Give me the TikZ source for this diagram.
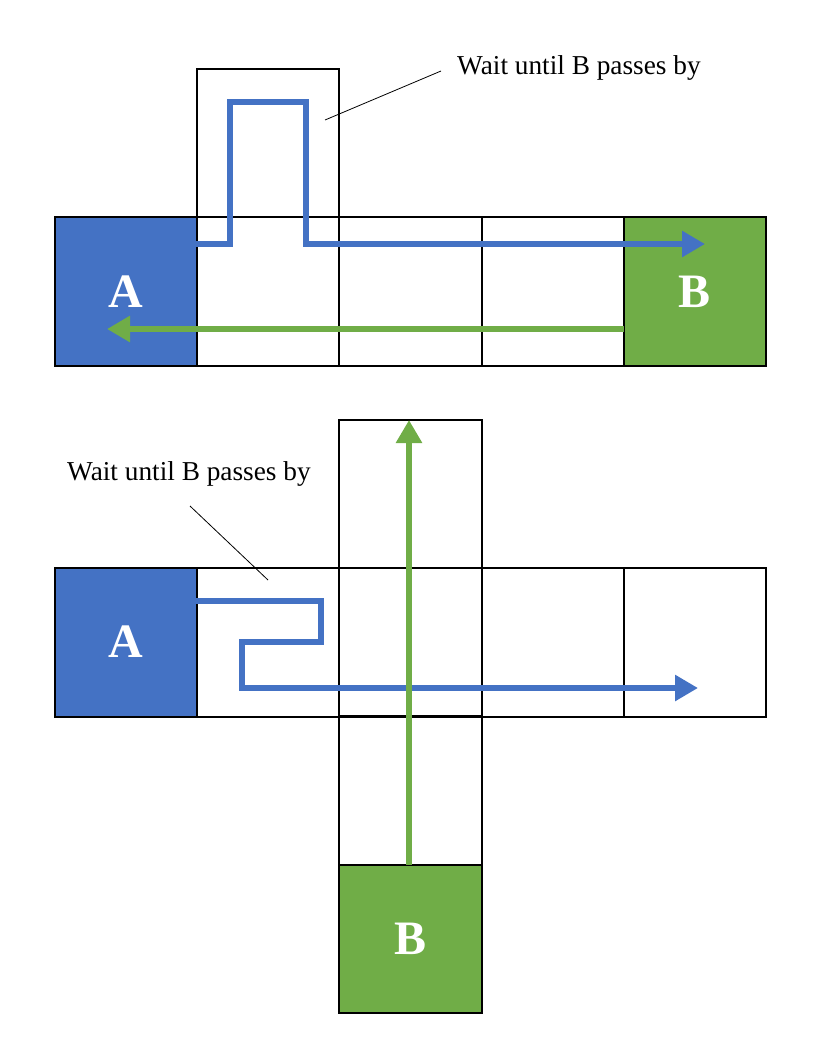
\documentclass[tikz,border=0pt]{standalone}
\usepackage{fontspec}
\setmainfont{Liberation Serif}
\usetikzlibrary{arrows.meta}
\definecolor{cblue}{HTML}{4472C4}
\definecolor{cgreen}{HTML}{70AD47}
\begin{document}
\begin{tikzpicture}[x=1pt,y=-1pt,
  cell/.style={draw=black,line width=2pt,minimum width=142.2pt,minimum height=149pt,inner sep=0pt,outer sep=0pt},
  cellA/.style={cell,fill=cblue},
  cellB/.style={cell,fill=cgreen},
  letter/.style={text=white,font=\bfseries\fontsize{48}{50}\selectfont},
  lbl/.style={font=\fontsize{27.3}{32}\selectfont,inner sep=0pt},
  bpath/.style={draw=cblue,line width=6pt},
  gpath/.style={draw=cgreen,line width=6.5pt},
  tip/.style={-{Triangle[length=23pt,width=25pt]}},
  pointer/.style={draw=black,line width=0.8pt}]
\useasboundingbox (0,0) rectangle (824,1045);
% ---------- top diagram ----------
\node[cellA] (tA) at (126.1,291.5) {};
\node[cell]  (t1) at (268.3,291.5) {};
\node[cell]  (t2) at (410.5,291.5) {};
\node[cell]  (t3) at (552.7,291.5) {};
\node[cellB] (tB) at (694.9,291.5) {};
\node[cell,minimum height=148pt] (tU) at (268.3,143) {};
\node[letter] (tAl) at (tA) {A};
\node[letter] (tBl) at (tB) {B};
\coordinate (tp0) at (196,244);
\coordinate (tp1) at (230,244);
\coordinate (tp2) at (230,102);
\coordinate (tp3) at (306,102);
\coordinate (tp4) at (306,244);
\coordinate (tp5) at (705,244);
\draw[bpath,tip] (tp0) -- (tp1) -- (tp2) -- (tp3) -- (tp4) -- (tp5);
\coordinate (tg0) at (624,329);
\coordinate (tg1) at (107,329);
\draw[gpath,tip] (tg0) -- (tg1);
\node[lbl,anchor=base west] (tL) at (457,74) {Wait until B passes by};
\coordinate (tl0) at (441,71);
\coordinate (tl1) at (325,120);
\draw[pointer] (tl0) -- (tl1);
% ---------- bottom diagram ----------
\node[cellA] (bA) at (126.1,642) {};
\node[cell]  (b1) at (268.3,642) {};
\node[cell]  (b2) at (410.5,642) {};
\node[cell]  (b3) at (552.7,642) {};
\node[cell]  (b4) at (694.9,642) {};
\node[cell,minimum height=148pt] (bU) at (410.5,494) {};
\node[cell] (bD) at (410.5,790.5) {};
\node[cellB,minimum height=148pt] (bB) at (410.5,939) {};
\node[letter] (bAl) at (bA) {A};
\node[letter] (bBl) at (bB) {B};
\coordinate (bp0) at (196,601);
\coordinate (bp1) at (321,601);
\coordinate (bp2) at (321,642);
\coordinate (bp3) at (242,642);
\coordinate (bp4) at (242,688);
\coordinate (bp5) at (698,688);
\draw[bpath,tip] (bp0) -- (bp1) -- (bp2) -- (bp3) -- (bp4) -- (bp5);
\coordinate (bg0) at (409,865);
\coordinate (bg1) at (409,420);
\draw[gpath,tip] (bg0) -- (bg1);
\node[lbl,anchor=base west] (bL) at (67,480) {Wait until B passes by};
\coordinate (bl0) at (190,506);
\coordinate (bl1) at (268,580);
\draw[pointer] (bl0) -- (bl1);
\end{tikzpicture}
\end{document}
